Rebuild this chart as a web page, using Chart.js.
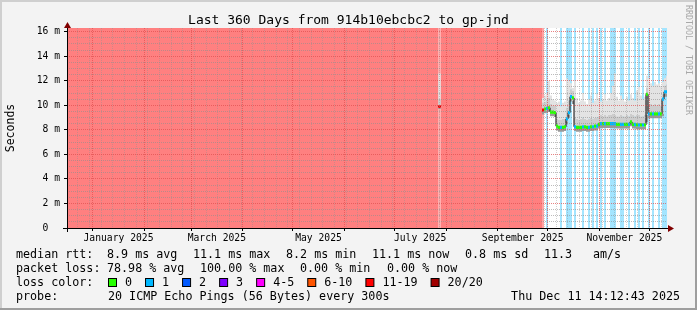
<!DOCTYPE html>
<html>
<head>
<meta charset="utf-8">
<script src="https://cdn.jsdelivr.net/npm/chart.js@4/dist/chart.umd.min.js"></script>
<style>
  html, body { margin: 0; padding: 0; background: #f3f3f3; }
  canvas { display: block; }
</style>
</head>
<body>
<canvas id="chart" width="697" height="310"></canvas>
<script>
const MONO = '"DejaVu Sans Mono", monospace';

const TITLE = 'Last 360 Days from 914b10ebcbc2 to gp-jnd';
const STAMP = 'Thu Dec 11 14:12:43 2025';
const SPAN_DAYS = 360;   // x axis: days since Dec 16 2024 14:12:43
const Y_MAX = 16.3;      // ms

// month boundaries (days since graph start) and the labels rrdtool prints between them
const monthStarts = [15.41, 46.41, 74.41, 105.41, 135.41, 166.41, 196.41, 227.41, 258.41, 288.41, 319.41, 349.41];
const monthLabels = ['January 2025', '', 'March 2025', '', 'May 2025', '', 'July 2025', '', 'September 2025', '', 'November 2025', ''];
const FIRST_MONDAY = 6.41;
const yLabels = ['0  ', '2 m', '4 m', '6 m', '8 m', '10 m', '12 m', '14 m', '16 m'];

// 100% loss (no answer) periods, in days
const deadStart = [0, 224.3];
const deadEnd = [222.7, 285.0];

// single sample in July
const blipDays = [222.7];
const blipEnd = 224.3;
const blipMedian = [9.9];
const blipMin = [9.7];
const blipLow = [9.8];
const blipHigh = [10.5];
const blipMax = [12.6];
const blipLoss = [15];

// samples from September on, one every 1.2 days (ms / lost pings out of 20)
const FIRST_DAY = 285.0;
const STEP = 1.2;
const medianMs = [
  9.6, 9.7, 9.75, 9.8, 9.45, 9.45, 9.4, 8.3, 8.2, 8.2,
  8.2, 8.25, 8.9, 9.4, 10.7, 10.6, 8.25, 8.2, 8.2, 8.2,
  8.25, 8.25, 8.2, 8.2, 8.25, 8.25, 8.3, 8.3, 8.45, 8.5,
  8.5, 8.5, 8.5, 8.5, 8.5, 8.5, 8.5, 8.45, 8.45, 8.45,
  8.45, 8.45, 8.45, 8.45, 8.65, 8.45, 8.45, 8.4, 8.4, 8.4,
  8.4, 8.4, 10.9, 9.3, 9.3, 9.3, 9.3, 9.3, 9.3, 9.3,
  10.5, 11.1, 11.1];
const smokeMin = [
  9.25, 9.35, 9.4, 9.45, 9.1, 9.1, 9.05, 7.95, 7.85, 7.85,
  7.85, 7.9, 8.5, 9.0, 10.3, 10.1, 7.9, 7.85, 7.85, 7.85,
  7.9, 7.9, 7.85, 7.85, 7.9, 7.9, 7.95, 7.95, 8.1, 8.15,
  8.15, 8.15, 8.15, 8.15, 8.15, 8.15, 8.15, 8.1, 8.1, 8.1,
  8.1, 8.1, 8.1, 8.1, 8.3, 8.1, 8.1, 8.05, 8.05, 8.05,
  8.05, 8.05, 8.6, 8.95, 8.95, 8.95, 8.95, 8.95, 8.95, 8.95,
  9.1, 10.7, 10.7];
const smokeLow = [
  9.5, 9.6, 9.6, 9.7, 9.35, 9.35, 9.3, 8.2, 8.1, 8.1,
  8.1, 8.15, 8.7, 9.2, 10.55, 10.4, 8.15, 8.1, 8.1, 8.1,
  8.15, 8.15, 8.1, 8.1, 8.15, 8.15, 8.2, 8.2, 8.35, 8.4,
  8.4, 8.4, 8.4, 8.4, 8.4, 8.4, 8.4, 8.35, 8.35, 8.35,
  8.35, 8.35, 8.35, 8.35, 8.55, 8.35, 8.35, 8.3, 8.3, 8.3,
  8.3, 8.3, 9.2, 9.2, 9.2, 9.2, 9.2, 9.2, 9.2, 9.2,
  9.3, 10.95, 10.95];
const smokeHigh = [
  10.2, 10.3, 10.4, 10.6, 10.1, 10.0, 10.0, 8.9, 8.8, 8.8,
  8.9, 8.9, 9.8, 10.4, 11.3, 11.2, 9.0, 8.9, 8.8, 8.9,
  9.0, 8.9, 8.8, 8.9, 9.0, 8.9, 9.0, 9.0, 9.1, 9.2,
  9.1, 9.2, 9.1, 9.2, 9.2, 9.3, 9.2, 9.1, 9.1, 9.2,
  9.1, 9.1, 9.2, 9.1, 9.3, 9.2, 9.1, 9.2, 9.2, 9.1,
  9.1, 9.2, 11.4, 10.0, 10.1, 10.0, 10.1, 10.0, 10.1, 10.0,
  10.9, 11.6, 11.7];
const smokeMax = [
  10.6, 10.8, 11.0, 12.0, 10.8, 10.5, 10.4, 10.2, 10.3, 9.9,
  10.2, 10.3, 12.2, 12.0, 11.8, 11.4, 12.0, 10.6, 10.2, 10.4,
  11.0, 10.3, 10.1, 10.5, 10.8, 10.2, 10.4, 10.9, 10.6, 10.3,
  10.5, 10.9, 10.4, 10.6, 11.0, 11.6, 12.6, 10.7, 10.4, 10.8,
  10.5, 10.3, 10.7, 10.4, 10.9, 10.6, 10.4, 11.2, 11.5, 10.8,
  10.5, 10.7, 12.4, 12.2, 11.8, 11.6, 11.9, 11.7, 11.8, 11.6,
  11.9, 12.2, 12.4];
const lostPings = [
  15, 0, 1, 0, 0, 0, 0, 0, 0, 1,
  0, 0, 1, 1, 1, 0, 1, 0, 0, 0,
  1, 0, 0, 1, 0, 1, 0, 1, 0, 1,
  0, 1, 0, 0, 1, 1, 1, 0, 0, 1,
  1, 0, 0, 1, 0, 0, 1, 0, 1, 0,
  1, 0, 0, 1, 0, 1, 0, 0, 1, 0,
  1, 1, 1];

// legend
const rttStats = ['8.9 ms avg', '11.1 ms max', '8.2 ms min', '11.1 ms now', '0.8 ms sd', '11.3', 'am/s'];
const lossStats = ['78.98 % avg', '100.00 % max', '0.00 % min', '0.00 % now'];
const lossLabels = ['0', '1', '2', '3', '4-5', '6-10', '11-19', '20/20'];
const lossUpper = [0, 1, 2, 3, 5, 10, 19, 20];
const lossColors = ['#26ff00', '#00b8ff', '#0059ff', '#7e00ff', '#ff00ff', '#ff5500', '#ff0000', '#a10000'];
const PROBE = '20 ICMP Echo Pings (56 Bytes) every 300s';

const BAND = 0.13; // half thickness of the coloured median bar, ms

function lossColor(n) {
  return lossColors[lossUpper.findIndex(u => n <= u)];
}
function withAlpha(hex, a) {
  const n = parseInt(hex.slice(1), 16);
  return `rgba(${n >> 16},${(n >> 8) & 255},${n & 255},${a})`;
}
function steps(days, vals, endDay) {
  const pts = days.map((d, i) => ({ x: d, y: vals[i] }));
  pts.push({ x: endDay, y: vals[vals.length - 1] });
  return pts;
}

const datasets = [];
function add(ds) { datasets.push(ds); return datasets.length - 1; }
const hidden = { type: 'line', stepped: 'before', pointRadius: 0, borderWidth: 0, borderColor: 'rgba(0,0,0,0)' };

// no-reply area
const deadPts = [];
deadStart.forEach((d, i) => { deadPts.push({ x: d, y: Y_MAX }, { x: deadEnd[i], y: 0 }); });
add({ ...hidden, order: 100, data: deadPts, fill: 'origin', backgroundColor: '#ff8080' });

function addGroup(days, endDay, g) {
  const pts = vals => steps(days, vals, endDay);
  const lossAt = c => g.loss[Math.min(c.p0DataIndex, g.loss.length - 1)];
  add({ ...hidden, order: 90, data: pts(g.loss.map(n => n > 0 ? Y_MAX : 0)), fill: 'origin',
        segment: { backgroundColor: c => withAlpha(lossColor(lossAt(c)), 0.36) } });
  const iMin = add({ ...hidden, order: 80, data: pts(g.min), fill: false });
  const iLow = add({ ...hidden, order: 79, data: pts(g.low), fill: iMin, backgroundColor: '#9a9a9a' });
  const iHigh = add({ ...hidden, order: 78, data: pts(g.high), fill: iLow, backgroundColor: '#cdcdcd' });
  add({ ...hidden, order: 77, data: pts(g.max), fill: iHigh, backgroundColor: '#e3e3e3' });
  add({ type: 'line', stepped: 'before', pointRadius: 0, order: 60, data: pts(g.median),
        borderColor: '#000', borderWidth: 1, fill: false });
  const iBand = add({ ...hidden, order: 51, data: pts(g.median.map(v => v - BAND)), fill: false });
  add({ ...hidden, order: 50, data: pts(g.median.map(v => v + BAND)), fill: iBand,
        segment: { backgroundColor: c => lossColor(lossAt(c)) } });
}

addGroup(blipDays, blipEnd, { median: blipMedian, min: blipMin, low: blipLow, high: blipHigh, max: blipMax, loss: blipLoss });
const sampleDays = medianMs.map((_, i) => FIRST_DAY + i * STEP);
addGroup(sampleDays, SPAN_DAYS, { median: medianMs, min: smokeMin, low: smokeLow, high: smokeHigh, max: smokeMax, loss: lostPings });

// ticks: weekly minor grid, monthly major grid, labels centred in every other month
const xTicks = [];
for (let d = FIRST_MONDAY; d < SPAN_DAYS; d += 7) xTicks.push({ value: d, kind: 'minor' });
monthStarts.forEach(d => xTicks.push({ value: d, kind: 'major' }));
monthLabels.forEach((t, i) => {
  if (t && i + 1 < monthStarts.length) xTicks.push({ value: (monthStarts[i] + monthStarts[i + 1]) / 2, kind: 'label', text: t });
});
xTicks.sort((a, b) => a.value - b.value);

const yTicks = [];
for (let v = 0; v <= 16; v += 0.5) {
  const major = v % 2 === 0;
  yTicks.push({ value: v, kind: major ? 'major' : 'minor', text: major ? yLabels[v / 2] : '' });
}

const MGRID = 'rgba(222,79,79,0.7)';
const gridColor = minor => c => {
  const k = c.tick && c.tick.kind;
  return k === 'major' ? MGRID : k === 'minor' ? minor : 'rgba(0,0,0,0)';
};
const tickColor = c => (c.tick && c.tick.kind === 'major') ? '#000' : 'rgba(0,0,0,0)';

const rrdLook = {
  id: 'rrdLook',
  beforeDraw(chart) {
    const { ctx, chartArea: a, width: W, height: H } = chart;
    ctx.save();
    ctx.fillStyle = '#f3f3f3';
    ctx.fillRect(0, 0, W, H);
    ctx.fillStyle = '#cfcfcf';
    ctx.fillRect(0, 0, W, 2);
    ctx.fillRect(0, 0, 2, H);
    ctx.fillStyle = '#9e9e9e';
    ctx.fillRect(0, H - 2, W, 2);
    ctx.fillRect(W - 2, 0, 2, H);
    ctx.fillStyle = '#fff';
    ctx.fillRect(a.left, a.top, a.right - a.left, a.bottom - a.top);
    ctx.restore();
  },
  afterDraw(chart) {
    const { ctx, chartArea: a, width: W } = chart;
    ctx.save();
    // axes + arrows
    ctx.strokeStyle = '#000';
    ctx.lineWidth = 1;
    ctx.beginPath();
    ctx.moveTo(a.left - 4, a.bottom + 0.5);
    ctx.lineTo(a.right + 2, a.bottom + 0.5);
    ctx.moveTo(a.left + 0.5, a.bottom + 4);
    ctx.lineTo(a.left + 0.5, a.top - 2);
    ctx.stroke();
    ctx.fillStyle = '#800000';
    ctx.beginPath();
    ctx.moveTo(a.right + 1, a.bottom - 3);
    ctx.lineTo(a.right + 7, a.bottom + 0.5);
    ctx.lineTo(a.right + 1, a.bottom + 4);
    ctx.fill();
    ctx.beginPath();
    ctx.moveTo(a.left - 3, a.top);
    ctx.lineTo(a.left + 0.5, a.top - 6);
    ctx.lineTo(a.left + 4, a.top);
    ctx.fill();

    // title
    ctx.fillStyle = '#000';
    ctx.font = `13px ${MONO}`;
    ctx.textAlign = 'center';
    ctx.textBaseline = 'alphabetic';
    ctx.fillText(TITLE, W / 2, 23.5);

    // watermark
    ctx.save();
    ctx.translate(688.5, 5);
    ctx.rotate(Math.PI / 2);
    ctx.font = `8.3px ${MONO}`;
    ctx.fillStyle = '#a8a8a8';
    ctx.textAlign = 'left';
    ctx.textBaseline = 'middle';
    ctx.fillText('RRDTOOL / TOBI OETIKER', 0, 0);
    ctx.restore();

    // legend
    ctx.font = `11.7px ${MONO}`;
    ctx.textAlign = 'left';
    ctx.fillStyle = '#000';
    ctx.fillText('median rtt:', 16, 258.3);
    [107, 193, 286, 372, 465, 544, 593].forEach((x, i) => ctx.fillText(rttStats[i], x, 258.3));
    ctx.fillText('packet loss:', 16, 271.8);
    [107, 200, 300, 387].forEach((x, i) => ctx.fillText(lossStats[i], x, 271.8));
    ctx.fillText('loss color:', 16, 285.7);
    let x = 108;
    lossLabels.forEach((t, i) => {
      ctx.fillStyle = lossColors[i];
      ctx.fillRect(x + 0.5, 278.5, 8, 8);
      ctx.strokeStyle = '#000';
      ctx.strokeRect(x + 0.5, 278.5, 8, 8);
      ctx.fillStyle = '#000';
      ctx.fillText(t, x + 17, 285.7);
      x += 17 + ctx.measureText(t).width + 13;
    });
    ctx.fillText('probe:', 16, 300);
    ctx.fillText(PROBE, 108, 300);
    ctx.textAlign = 'right';
    ctx.fillText(STAMP, 680, 300);
    ctx.restore();
  }
};

new Chart(document.getElementById('chart'), {
  type: 'line',
  data: { datasets },
  plugins: [rrdLook],
  options: {
    responsive: false,
    animation: false,
    devicePixelRatio: 1,
    events: [],
    layout: { padding: { top: 28, right: 30, left: 0, bottom: 0 } },
    plugins: { legend: { display: false }, tooltip: { enabled: false }, title: { display: false } },
    scales: {
      x: {
        type: 'linear', min: 0, max: SPAN_DAYS, position: 'bottom',
        afterBuildTicks: s => { s.ticks = xTicks; },
        afterFit: s => { s.height = 82; },
        ticks: { autoSkip: false, maxRotation: 0, minRotation: 0, padding: 2, color: '#000',
                 font: { family: MONO, size: 9.7 }, callback: (v, i, t) => t[i].text || '' },
        grid: { z: 1, color: gridColor('rgba(143,143,143,0.4)'), lineWidth: 1, tickLength: 3, tickColor },
        border: { display: false, dash: [1, 1] }
      },
      y: {
        type: 'linear', min: 0, max: Y_MAX,
        afterBuildTicks: s => { s.ticks = yTicks; },
        afterFit: s => { s.width = 67; },
        ticks: { autoSkip: false, padding: 4, color: '#000',
                 font: { family: MONO, size: 9.7 }, callback: (v, i, t) => t[i].text },
        grid: { z: 1, color: gridColor('rgba(143,143,143,0.6)'), lineWidth: 1, tickLength: 3, tickColor },
        border: { display: false, dash: [1, 1] },
        title: { display: true, text: 'Seconds', color: '#000', font: { family: MONO, size: 11.5 },
                 padding: { top: 4, bottom: 0 } }
      }
    }
  }
});
</script>
</body>
</html>
